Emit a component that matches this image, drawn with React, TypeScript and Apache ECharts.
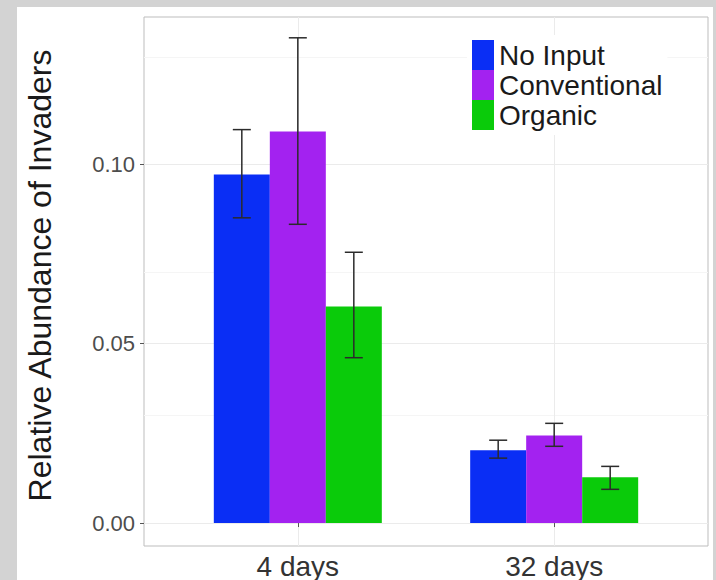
import React, { useEffect, useRef } from "react";
import * as echarts from "echarts";

const categories = ["4 days", "32 days"];
const positions = [1, 2];
const seriesNames = ["No Input", "Conventional", "Organic"];
const noInput = [0.0972, 0.0203];
const conventional = [0.1092, 0.0244];
const organic = [0.0604, 0.0128];
const noInputLow = [0.0851, 0.0181];
const noInputHigh = [0.1097, 0.0231];
const conventionalLow = [0.0833, 0.0214];
const conventionalHigh = [0.1353, 0.0278];
const organicLow = [0.0461, 0.0094];
const organicHigh = [0.0755, 0.0158];
const yTicks = [0, 0.05, 0.1];
const yMinor = [0.025, 0.075, 0.125];

const colors = ["#0a2ef5", "#a322f0", "#0acb0a"];
const BAR_W = 56;
const CAP = 9;
const FONT = "Liberation Sans";

export default function App() {
  const ref = useRef<HTMLDivElement>(null);
  useEffect(() => {
    if (!ref.current) return;
    const chart = echarts.init(ref.current, null, { renderer: "svg" });
    const values = [noInput, conventional, organic];
    const lows = [noInputLow, conventionalLow, organicLow];
    const highs = [noInputHigh, conventionalHigh, organicHigh];
    const errData: number[][] = [];
    values.forEach((_, k) => {
      positions.forEach((p, i) => {
        errData.push([p, lows[k][i], highs[k][i], k]);
      });
    });
    const option: any = {
      animation: false,
      backgroundColor: "#d3d3d3",
      graphic: [
        {
          type: "rect",
          z: -10,
          silent: true,
          shape: { x: 17, y: 7, width: 696, height: 580 },
          style: { fill: "#ffffff" },
        },
      ],
      grid: {
        left: 144,
        top: 17,
        right: 8,
        bottom: 32,
        show: true,
        backgroundColor: "#ffffff",
        borderColor: "#bdbdbd",
        borderWidth: 1,
      },
      legend: {
        orient: "vertical",
        left: 467,
        top: 35,
        icon: "rect",
        itemWidth: 22,
        itemHeight: 30,
        itemGap: 0,
        backgroundColor: "#ffffff",
        data: seriesNames,
        textStyle: { fontFamily: FONT, fontSize: 28, color: "#1a1a1a" },
      },
      xAxis: {
        type: "value",
        min: 0.4,
        max: 2.6,
        axisLine: { show: false },
        splitLine: { show: false },
        axisTick: {
          show: true,
          customValues: positions,
          length: 4,
          lineStyle: { color: "#555" },
        },
        axisLabel: {
          customValues: positions,
          formatter: (v: number) => categories[positions.indexOf(v)] ?? "",
          fontFamily: FONT,
          fontSize: 28,
          color: "#333333",
          margin: 6,
        },
      },
      yAxis: {
        type: "value",
        min: -0.0064,
        max: 0.1411,
        name: "Relative Abundance of Invaders",
        nameLocation: "middle",
        nameGap: 88,
        nameTextStyle: {
          fontFamily: FONT,
          fontSize: 32,
          color: "#1a1a1a",
          padding: [0, 0, 0, 12],
        },
        axisLine: { show: false },
        splitLine: { show: false },
        axisTick: {
          show: true,
          customValues: yTicks,
          length: 4,
          lineStyle: { color: "#555" },
        },
        axisLabel: {
          customValues: yTicks,
          formatter: (v: number) => v.toFixed(2),
          fontFamily: FONT,
          fontSize: 22,
          color: "#4d4d4d",
          margin: 9,
        },
      },
      series: [
        {
          type: "line",
          name: "grid",
          data: [],
          z: 0,
          silent: true,
          markLine: {
            silent: true,
            symbol: "none",
            animation: false,
            z: 0,
            label: { show: false },
            data: [
              ...yMinor.map((v) => ({ yAxis: v, lineStyle: { color: "#f5f5f5", width: 1, type: "solid" } })),
              ...yTicks.map((v) => ({ yAxis: v, lineStyle: { color: "#ebebeb", width: 1, type: "solid" } })),
              ...positions.map((p) => ({ xAxis: p, lineStyle: { color: "#ebebeb", width: 1, type: "solid" } })),
            ],
          },
        },
        ...values.map((vals, k) => ({
          type: "bar",
          name: seriesNames[k],
          data: vals.map((v, i) => [positions[i], v]),
          barWidth: BAR_W,
          barGap: "0%",
          itemStyle: { color: colors[k] },
          z: 2,
        })),
        {
          type: "custom",
          name: "errors",
          z: 5,
          data: errData,
          encode: { x: 0, y: [1, 2] },
          renderItem: (params: any, api: any) => {
            const x = api.value(0);
            const lo = api.value(1);
            const hi = api.value(2);
            const k = api.value(3);
            const top = api.coord([x, hi]);
            const bot = api.coord([x, lo]);
            const cx = top[0] + (k - 1) * BAR_W;
            const style = { stroke: "#2b2b2b", lineWidth: 1.5 };
            return {
              type: "group",
              children: [
                { type: "line", shape: { x1: cx, y1: top[1], x2: cx, y2: bot[1] }, style },
                { type: "line", shape: { x1: cx - CAP, y1: top[1], x2: cx + CAP, y2: top[1] }, style },
                { type: "line", shape: { x1: cx - CAP, y1: bot[1], x2: cx + CAP, y2: bot[1] }, style },
              ],
            };
          },
        },
      ],
    };
    chart.setOption(option);
    return () => chart.dispose();
  }, []);
  return (
    <div
      ref={ref}
      style={{ position: "fixed", left: 0, top: 0, width: 716, height: 580 }}
    />
  );
}
